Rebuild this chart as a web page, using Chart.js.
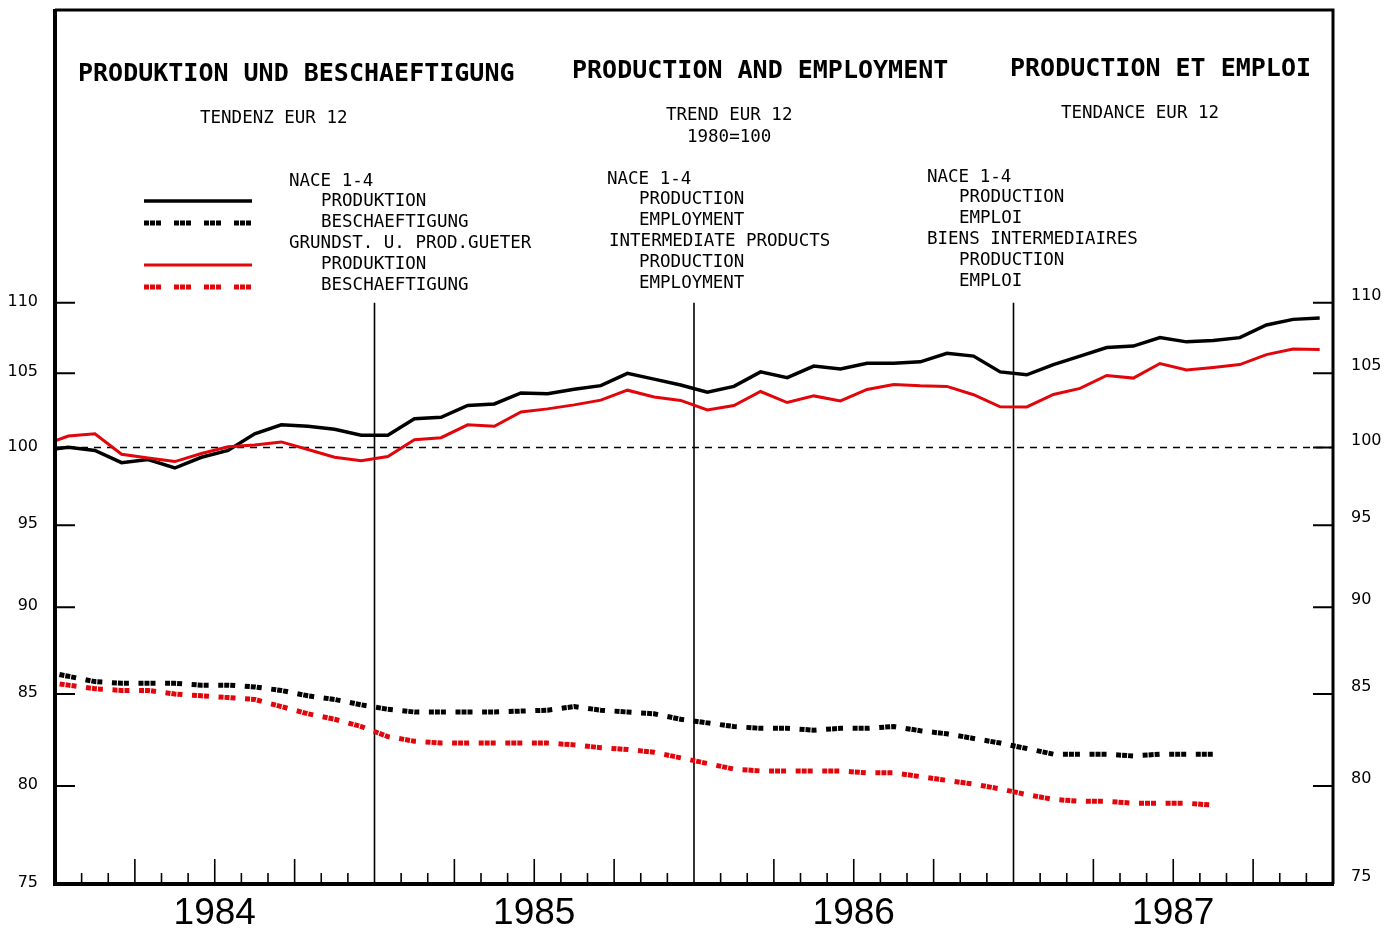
<!DOCTYPE html>
<html>
<head>
<meta charset="utf-8">
<title>Produktion und Beschaeftigung</title>
<script src="https://cdn.jsdelivr.net/npm/chart.js@4.4.0/dist/chart.umd.min.js"></script>
<style>
  html, body { margin: 0; padding: 0; background: #fff; }
  #wrap { width: 1397px; height: 930px; }
</style>
</head>
<body>
<div id="wrap"><canvas id="chart" width="1397" height="930"></canvas></div>
<script>
// trend indices EUR 12, 1980 = 100, monthly from Dec 1983
const YEARS = ["1984", "1985", "1986", "1987"];
const Y_TICKS = [75, 80, 85, 90, 95, 100, 105, 110];

const NACE_PROD = [
  99.8,
  100.0, 99.8, 99.0, 99.2, 98.65, 99.35, 99.8, 100.9, 101.5, 101.4, 101.2, 100.8,
  100.8, 101.9, 102.0, 102.8, 102.9, 103.65, 103.6, 103.9, 104.15, 105.0, 104.6, 104.2,
  103.7, 104.1, 105.1, 104.7, 105.5, 105.3, 105.7, 105.7, 105.8, 106.4, 106.2, 105.1,
  104.9, 105.6, 106.2, 106.8, 106.9, 107.5, 107.2, 107.3, 107.5, 108.4, 108.8, 108.9
];
const NACE_EMP = [
  86.3,
  86.0, 85.7, 85.6, 85.6, 85.6, 85.5, 85.5, 85.4, 85.2, 84.9, 84.7, 84.4,
  84.15, 84.0, 84.0, 84.0, 84.0, 84.05, 84.1, 84.3, 84.1, 84.0, 83.9, 83.6,
  83.4, 83.2, 83.1, 83.1, 83.0, 83.1, 83.1, 83.2, 82.97, 82.8, 82.55, 82.3,
  82.0, 81.7, 81.7, 81.7, 81.6, 81.7, 81.7, 81.7
];
const INTER_PROD = [
  100.1,
  100.75, 100.9, 99.55, 99.3, 99.07, 99.6, 100.04, 100.16, 100.36, 99.86, 99.35, 99.12,
  99.4, 100.5, 100.64, 101.5, 101.4, 102.36, 102.57, 102.84, 103.16, 103.84, 103.38, 103.14,
  102.5, 102.8, 103.75, 103.0, 103.45, 103.11, 103.89, 104.23, 104.14, 104.1, 103.53, 102.71,
  102.7, 103.55, 103.96, 104.85, 104.67, 105.68, 105.23, 105.4, 105.61, 106.3, 106.7, 106.66
];
const INTER_EMP = [
  85.7,
  85.5, 85.3, 85.2, 85.2, 85.0, 84.9, 84.8, 84.7, 84.3, 83.9, 83.6, 83.2,
  82.65, 82.4, 82.3, 82.3, 82.3, 82.3, 82.3, 82.2, 82.05, 81.95, 81.8, 81.5,
  81.2, 80.9, 80.8, 80.8, 80.8, 80.8, 80.7, 80.7, 80.5, 80.3, 80.1, 79.85,
  79.55, 79.3, 79.2, 79.2, 79.1, 79.1, 79.1, 79.0
];

const RED = "#e1060b";
const MONO = '"DejaVu Sans Mono", "Liberation Mono", monospace';
const SANS = '"DejaVu Sans", sans-serif';
const DOTS = [5, 1, 5, 1, 5, 9.6];

// heading and key text: [text, x, y, size, bold]
const LABELS = [
  ["PRODUKTION UND BESCHAEFTIGUNG", 78, 74, 25, true],
  ["PRODUCTION AND EMPLOYMENT", 572, 71, 25, true],
  ["PRODUCTION ET EMPLOI", 1010, 69, 25, true],
  ["TENDENZ EUR 12", 200, 118, 17.5],
  ["TREND EUR 12", 666, 115, 17.5],
  ["1980=100", 687, 137, 17.5],
  ["TENDANCE EUR 12", 1061, 113, 17.5],
  ["NACE 1-4", 289, 181, 17.5],
  ["PRODUKTION", 321, 201, 17.5],
  ["BESCHAEFTIGUNG", 321, 222, 17.5],
  ["GRUNDST. U. PROD.GUETER", 289, 243, 17.5],
  ["PRODUKTION", 321, 264, 17.5],
  ["BESCHAEFTIGUNG", 321, 285, 17.5],
  ["NACE 1-4", 607, 179, 17.5],
  ["PRODUCTION", 639, 199, 17.5],
  ["EMPLOYMENT", 639, 220, 17.5],
  ["INTERMEDIATE PRODUCTS", 609, 241, 17.5],
  ["PRODUCTION", 639, 262, 17.5],
  ["EMPLOYMENT", 639, 283, 17.5],
  ["NACE 1-4", 927, 177, 17.5],
  ["PRODUCTION", 959, 197, 17.5],
  ["EMPLOI", 959, 218, 17.5],
  ["BIENS INTERMEDIAIRES", 927, 239, 17.5],
  ["PRODUCTION", 959, 260, 17.5],
  ["EMPLOI", 959, 281, 17.5]
];

// key samples beside the German block
const KEY = [
  { y: 201, color: "#000", width: 3.5 },
  { y: 223, color: "#000", width: 5, dash: [5, 1, 5, 1, 5, 13] },
  { y: 265, color: RED, width: 3 },
  { y: 287, color: RED, width: 5, dash: [5, 1, 5, 1, 5, 13] }
];

const toPoints = (arr) => arr.map((v, i) => ({ x: i - 0.5, y: v }));

const decor = {
  id: "decor",
  beforeDatasetsDraw(chart) {
    const { ctx, chartArea: a, scales: { x, y } } = chart;
    ctx.save();
    ctx.strokeStyle = "#000";

    // 1980 = 100 base line
    const y100 = y.getPixelForValue(100);
    ctx.lineWidth = 1.5;
    ctx.setLineDash([7, 6]);
    ctx.beginPath();
    ctx.moveTo(a.left, y100);
    ctx.lineTo(a.right, y100);
    ctx.stroke();
    ctx.setLineDash([]);

    // month ticks, taller each quarter, year breaks run up to 110
    for (let m = 1; m < 48; m++) {
      const px = x.getPixelForValue(m);
      let top = a.bottom - 11;
      if (m % 12 === 0) top = y.getPixelForValue(110);
      else if (m % 3 === 0) top = a.bottom - 25;
      ctx.lineWidth = 1.6;
      ctx.beginPath();
      ctx.moveTo(px, a.bottom);
      ctx.lineTo(px, top);
      ctx.stroke();
    }

    // inward value ticks on both sides
    ctx.lineWidth = 2;
    for (const v of Y_TICKS.slice(1)) {
      const py = y.getPixelForValue(v);
      ctx.beginPath();
      ctx.moveTo(a.left, py);
      ctx.lineTo(a.left + 20, py);
      ctx.moveTo(a.right - 20, py);
      ctx.lineTo(a.right, py);
      ctx.stroke();
    }
    ctx.restore();
  },
  afterDraw(chart) {
    const { ctx, chartArea: a } = chart;
    ctx.save();

    // frame
    ctx.strokeStyle = "#000";
    ctx.lineWidth = 3;
    ctx.beginPath();
    ctx.moveTo(a.left, a.top);
    ctx.lineTo(a.right, a.top);
    ctx.lineTo(a.right, a.bottom);
    ctx.stroke();
    ctx.lineWidth = 4;
    ctx.beginPath();
    ctx.moveTo(a.left, a.top - 1);
    ctx.lineTo(a.left, a.bottom);
    ctx.lineTo(a.right + 1, a.bottom);
    ctx.stroke();

    // key samples
    for (const k of KEY) {
      ctx.strokeStyle = k.color;
      ctx.lineWidth = k.width;
      ctx.setLineDash(k.dash || []);
      ctx.beginPath();
      ctx.moveTo(144, k.y);
      ctx.lineTo(252, k.y);
      ctx.stroke();
    }
    ctx.setLineDash([]);

    // headings and key text
    ctx.fillStyle = "#000";
    ctx.textBaseline = "middle";
    ctx.textAlign = "left";
    for (const [text, tx, ty, size, bold] of LABELS) {
      ctx.font = `${bold ? "bold " : ""}${size}px ${MONO}`;
      ctx.fillText(text, tx, ty);
    }
    ctx.restore();
  }
};

const lineSet = (label, data, color, width, dash) => ({
  label,
  data: toPoints(data),
  borderColor: color,
  borderWidth: width,
  borderDash: dash || [],
  borderDashOffset: dash ? 8.5 : 0,
  borderCapStyle: "butt",
  pointRadius: 0,
  tension: 0,
  fill: false,
  clip: 0
});

const valueAxis = (position, width, padding, offset) => ({
  type: "logarithmic",
  position,
  min: 75,
  max: 133.4,
  grid: { display: false, drawTicks: false },
  border: { display: false },
  afterBuildTicks: (s) => { s.ticks = Y_TICKS.map((v) => ({ value: v })); },
  afterFit: (s) => {
    s.width = width;
    s.paddingTop = 0;
    s.paddingBottom = 0;
  },
  ticks: {
    autoSkip: false,
    padding,
    labelOffset: offset,
    color: "#000",
    font: { family: SANS, size: 16 },
    callback: (v) => String(v)
  }
});

new Chart(document.getElementById("chart"), {
  type: "line",
  data: {
    datasets: [
      lineSet("Intermediate products employment", INTER_EMP, RED, 5, DOTS),
      lineSet("NACE 1-4 employment", NACE_EMP, "#000", 5, DOTS),
      lineSet("Intermediate products production", INTER_PROD, RED, 3),
      lineSet("NACE 1-4 production", NACE_PROD, "#000", 3.5)
    ]
  },
  options: {
    responsive: false,
    animation: false,
    events: [],
    layout: { padding: { top: 10, left: 0, right: 0, bottom: 0 } },
    plugins: { legend: { display: false }, tooltip: { enabled: false } },
    scales: {
      x: {
        type: "linear",
        position: "bottom",
        min: 0,
        max: 48,
        grid: { display: false, drawTicks: false },
        border: { display: false },
        afterBuildTicks: (s) => { s.ticks = YEARS.map((_, i) => ({ value: 6 + 12 * i })); },
        afterFit: (s) => {
          s.height = 46;
          s.paddingLeft = 0;
          s.paddingRight = 0;
        },
        ticks: {
          autoSkip: false,
          maxRotation: 0,
          padding: 8,
          color: "#000",
          font: { family: '"Liberation Sans", sans-serif', size: 37 },
          callback: (v) => YEARS[Math.round((v - 6) / 12)]
        }
      },
      y: valueAxis("left", 55, 17, -1),
      y2: valueAxis("right", 64, 18, -7)
    }
  },
  plugins: [decor]
});
</script>
</body>
</html>
